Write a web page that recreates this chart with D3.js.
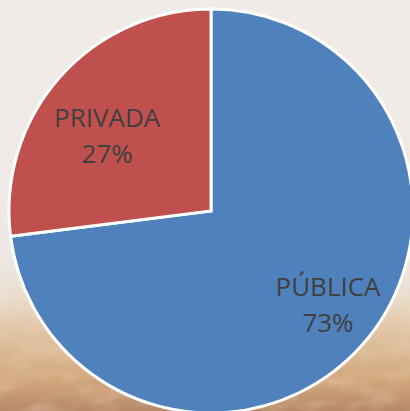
<!DOCTYPE html>
<html>
<head>
<meta charset="utf-8">
<script src="https://cdn.jsdelivr.net/npm/d3@7"></script>
<style>
  html, body { margin: 0; padding: 0; overflow: hidden; }
  body { width: 410px; height: 411px; }
  text { font-family: "Open Sans", sans-serif; }
</style>
</head>
<body>
<div id="chart"></div>
<script>
// data
const categories = ["PÚBLICA", "PRIVADA"];
const values = [73, 27];
const colors = ["#4f81bd", "#c0504d"];

const width = 410;
const height = 411;
const cx = 211, cy = 211, radius = 202;

const svg = d3.select("#chart").append("svg")
  .attr("width", width)
  .attr("height", height);

// ===== background (light wall on top, sandy texture at the bottom) =====
const defs = svg.append("defs");
const grad = defs.append("linearGradient")
  .attr("id", "bg").attr("x1", 0).attr("y1", 0).attr("x2", 0).attr("y2", 1);
[
  [0, "#efebe7"], [0.62, "#eee9e4"], [0.72, "#eadfd2"],
  [0.8, "#e2c6a6"], [0.92, "#d3a97f"], [1, "#b58868"]
].forEach(([o, c]) => grad.append("stop").attr("offset", o).attr("stop-color", c));

const noise = defs.append("filter").attr("id", "grain")
  .attr("x", 0).attr("y", 0).attr("width", "100%").attr("height", "100%");
noise.append("feTurbulence")
  .attr("type", "fractalNoise").attr("baseFrequency", "0.025 0.05")
  .attr("numOctaves", 3).attr("seed", 4).attr("result", "n");
noise.append("feColorMatrix")
  .attr("type", "matrix")
  .attr("values", "0 0 0 0 0.85  0 0 0 0 0.66  0 0 0 0 0.48  0 0 0 1.6 -0.7");

svg.append("rect").attr("width", width).attr("height", height).attr("fill", "url(#bg)");
svg.append("rect")
  .attr("y", 285).attr("width", width).attr("height", height - 285)
  .attr("filter", "url(#grain)")
  .attr("opacity", 0.6);

// ===== pie =====
const g = svg.append("g").attr("transform", `translate(${cx},${cy})`);

const pie = d3.pie().sort(null).value(d => d.value);
const arcs = pie(categories.map((c, i) => ({ label: c, value: values[i], color: colors[i] })));

const arc = d3.arc().innerRadius(0).outerRadius(radius);

g.selectAll("path.slice")
  .data(arcs)
  .join("path")
  .attr("class", "slice")
  .attr("d", arc)
  .attr("fill", d => d.data.color)
  .attr("stroke", "#fff")
  .attr("stroke-width", 3)
  .attr("stroke-linejoin", "miter");

// labels: "best fit" placement, nudged per slice like the original
const labelFit = { "PÚBLICA": { r: 156, da: 0 }, "PRIVADA": { r: 123, da: -9 } };
const total = d3.sum(values);

arcs.forEach(d => {
  const fit = labelFit[d.data.label];
  const a = (d.startAngle + d.endAngle) / 2 + fit.da * Math.PI / 180;
  const lx = Math.sin(a) * fit.r;
  const ly = -Math.cos(a) * fit.r;
  const t = g.append("text")
    .attr("text-anchor", "middle")
    .attr("fill", "#404040")
    .style("font-size", "26px");
  t.append("tspan").attr("x", lx).attr("y", ly - 18).text(d.data.label);
  t.append("tspan").attr("x", lx).attr("y", ly + 18)
    .text(Math.round(d.data.value / total * 100) + "%");
});
</script>
</body>
</html>
